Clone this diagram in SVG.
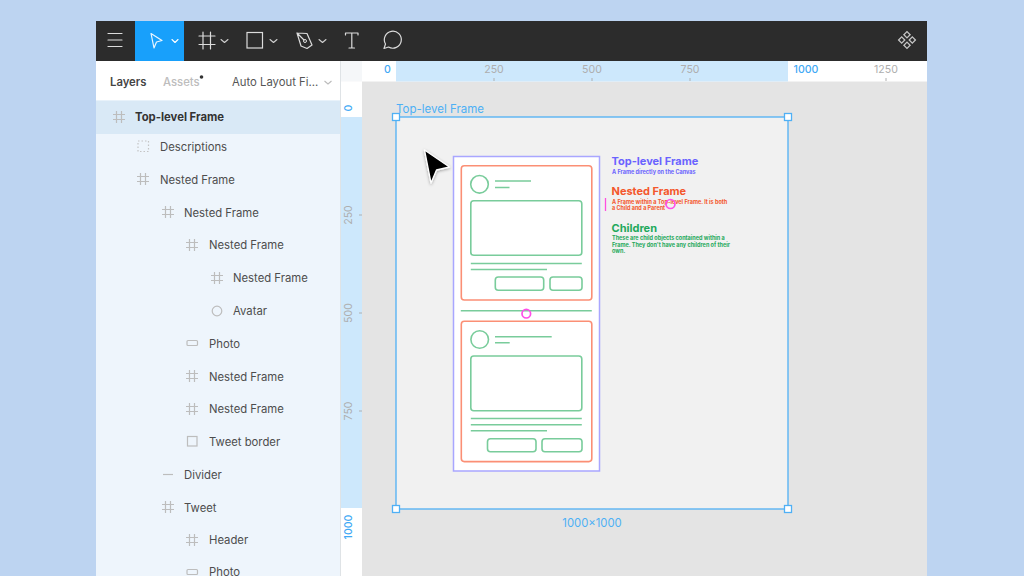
<svg xmlns="http://www.w3.org/2000/svg" width="1024" height="576" viewBox="0 0 1024 576">
<style>
text{font-family:Inter,"Noto Sans","Liberation Sans",sans-serif}
.row{font-size:11.3px;fill:#4d4d4d}
.ic{fill:none;stroke:#bdbdbd;stroke-width:1.2}
.tb{fill:none;stroke:#dcdcdc;stroke-width:1.2;stroke-linejoin:round;stroke-linecap:round}
.chev{fill:none;stroke:#cfcfcf;stroke-width:1.1;stroke-linecap:round;stroke-linejoin:round}
.rul{font-size:10.6px;fill:#aeaeae;text-anchor:middle}
.rulb{font-size:10.6px;fill:#3fa9f5;text-anchor:middle;font-weight:500}
.tick{stroke:#b0b0b0;stroke-width:1}
.h{fill:#fff;stroke:#4fb0f5;stroke-width:1.3}
.g{fill:none;stroke:#79cc9b;stroke-width:1.6}
.o{fill:none;stroke:#fb8f75;stroke-width:1.6}
.pk{fill:none;stroke:#ff4fe8;stroke-width:1.7}
.tt{font-size:11px;font-weight:700}
.st{font-size:5.5px;font-weight:700}
</style>
<defs>
<g id="hash" class="ic"><path d="M-2.5-6V6M2.5-6V6M-6-2.5H6M-6 2.5H6"/></g>
<filter id="sh" x="-40%" y="-40%" width="180%" height="180%"><feDropShadow dx="0" dy="1" stdDeviation="1.8" flood-color="#000" flood-opacity=".35"/></filter>
</defs>
<rect width="1024" height="576" fill="#bdd4f1"/>
<g id="window">
<rect x="96" y="21" width="831" height="555" fill="#e4e4e4"/>
</g>
<g id="toolbar">
<rect x="96" y="21" width="831" height="40" fill="#2c2c2c"/>
<rect x="135" y="21" width="49" height="40" fill="#18a0fb"/>
<path class="tb" d="M108 33.500H122M108 40H122M108 46.500H122"/>
<path class="tb" d="M151 33.500L162 40.500L156.500 42L154 48Z" style="stroke:#eaf6ff"/>
<path class="chev" d="M172 39.500L175 42.500L178 39.500" style="stroke:#fff"/>
<path class="tb" d="M203 32V49M210.500 32V49M199 36H215M199 44.500H215"/>
<path class="chev" d="M221 39.500L224.500 42.500L228 39.500"/>
<rect class="tb" x="247" y="32.500" width="15.500" height="15.500" style="stroke-linejoin:miter"/>
<path class="chev" d="M270 39.500L273.500 42.500L277 39.500"/>
<path class="tb" d="M297 33L307 33.500L312 45L307 48.500L301 46ZM297 33L304 40"/>
<circle cx="305" cy="41" r="1.500" fill="none" stroke="#dcdcdc"/>
<path class="chev" d="M319 39.500L322.500 42.500L326 39.500"/>
<path class="tb" d="M345.500 35V33H358V35M351.800 33V48M349 48H354.500"/>
<path class="tb" d="M384 48.500L385.500 44A8.500 8.500 0 1 1 388.500 47Z"/>
<g fill="none" stroke="#c4c4c4" stroke-width="1.300"><rect x="-2.200" y="-2.200" width="4.400" height="4.400" transform="translate(907 34.700) rotate(45)"/><rect x="-2.200" y="-2.200" width="4.400" height="4.400" transform="translate(907 45.300) rotate(45)"/><rect x="-2.200" y="-2.200" width="4.400" height="4.400" transform="translate(901.700 40) rotate(45)"/><rect x="-2.200" y="-2.200" width="4.400" height="4.400" transform="translate(912.300 40) rotate(45)"/></g>
</g>
<g id="rulers">
<rect x="340" y="61" width="587" height="20.500" fill="#fff"/>
<rect x="340" y="61" width="22" height="20.500" fill="#f5f7f9"/>
<rect x="396" y="61" width="392" height="20.500" fill="#cde8fc"/>
<rect x="340" y="81.500" width="22" height="494.500" fill="#fff"/>
<rect x="340" y="117" width="22" height="391" fill="#cde8fc"/>
<text class="rulb" x="387.500" y="73">0</text>
<text class="rul" x="494" y="73">250</text>
<text class="rul" x="592" y="73">500</text>
<text class="rul" x="690" y="73">750</text>
<text class="rulb" x="806" y="73">1000</text>
<text class="rul" x="886" y="73">1250</text>
<path class="tick" d="M494 78V81M592 78V81M690 78V81M886 78V81M359 215H362M359 313H362M359 411H362"/>
<text class="rulb" transform="translate(352 108) rotate(-90)">0</text>
<text class="rul" transform="translate(352 215) rotate(-90)">250</text>
<text class="rul" transform="translate(352 313) rotate(-90)">500</text>
<text class="rul" transform="translate(352 411) rotate(-90)">750</text>
<text class="rulb" transform="translate(352 527) rotate(-90)">1000</text>
</g>
<g id="layers-panel">
<rect x="96" y="61" width="244.500" height="515" fill="#eef5fc"/>
<rect x="96" y="61" width="244.500" height="39.500" fill="#fff"/>
<rect x="96" y="100.500" width="244.500" height="33.500" fill="#d9e9f6"/>
<path d="M340.500 61V576" stroke="#dfe3e6" stroke-width="1"/>
<text x="110" y="85.500" style="font-size:11.300px;font-weight:600;fill:#444">Layers</text>
<text x="163" y="85.500" style="font-size:11.300px;font-weight:500;fill:#bdbdbd">Assets</text>
<circle cx="201.500" cy="77" r="1.800" fill="#333"/>
<text x="232" y="85.500" style="font-size:11.300px;fill:#555">Auto Layout Fi...</text>
<path d="M324.500 81L328 84L331.500 81" fill="none" stroke="#bbb" stroke-width="1.100"/>
<use href="#hash" x="119" y="117" style="stroke:#555"/>
<text x="135" y="121.300" style="font-size:11.300px;font-weight:700;fill:#333">Top-level Frame</text>
<rect x="138" y="141" width="10.500" height="10.500" fill="none" stroke="#c4c4c4" stroke-width="1.200" stroke-dasharray="1.500 2"/>
<text class="row" x="160" y="151">Descriptions</text>
<use href="#hash" x="143" y="179"/><text class="row" x="160" y="184">Nested Frame</text>
<use href="#hash" x="168" y="212"/><text class="row" x="184" y="216.500">Nested Frame</text>
<use href="#hash" x="192" y="245"/><text class="row" x="209" y="249.300">Nested Frame</text>
<use href="#hash" x="217" y="278"/><text class="row" x="233" y="282">Nested Frame</text>
<circle class="ic" cx="217" cy="311" r="4.800"/><text class="row" x="233" y="315">Avatar</text>
<rect class="ic" x="187" y="340.500" width="10.500" height="5" rx="1"/><text class="row" x="209" y="347.500">Photo</text>
<use href="#hash" x="192" y="376"/><text class="row" x="209" y="380.500">Nested Frame</text>
<use href="#hash" x="192" y="409"/><text class="row" x="209" y="413.300">Nested Frame</text>
<rect class="ic" x="187.500" y="436.500" width="9.500" height="9.500"/><text class="row" x="209" y="445.500">Tweet border</text>
<path class="ic" d="M163 474.500H173"/><text class="row" x="184" y="478.500">Divider</text>
<use href="#hash" x="168" y="507"/><text class="row" x="184" y="511.500">Tweet</text>
<use href="#hash" x="192" y="540"/><text class="row" x="209" y="544">Header</text>
<rect class="ic" x="187" y="569.500" width="10.500" height="5" rx="1"/><text class="row" x="209" y="575.500">Photo</text>
</g>
<g id="top-level-frame">
<rect x="396" y="117" width="392" height="392" fill="#f1f1f1"/>
<rect x="396" y="117" width="392" height="392" fill="none" stroke="#4fb0f5" stroke-width="1.300"/>
<text x="396" y="113" style="font-size:11.500px;fill:#4db0f5">Top-level Frame</text>
<text x="592" y="526.500" text-anchor="middle" style="font-size:11.300px;fill:#4db0f5">1000×1000</text>
<rect class="h" x="392.500" y="113.500" width="7" height="7"/>
<rect class="h" x="784.500" y="113.500" width="7" height="7"/>
<rect class="h" x="392.500" y="505.500" width="7" height="7"/>
<rect class="h" x="784.500" y="505.500" width="7" height="7"/>
</g>
<g id="mockup">
<rect x="453.500" y="156.500" width="146" height="314.500" fill="#fff" stroke="#a9a6ff" stroke-width="1.500"/>
<g id="tweet-1">
<rect class="o" x="461.300" y="165.800" width="130.500" height="134.200" rx="3"/>
<circle class="g" cx="479.500" cy="184.300" r="8.800"/>
<path class="g" d="M495 181H531M495 187.500H509.500"/>
<rect class="g" x="470.800" y="200.800" width="111" height="54.500" rx="3"/>
<path class="g" d="M470.800 263.500H581.800M470.800 269.500H547"/>
<rect class="g" x="495.300" y="277" width="48.400" height="13.300" rx="3"/>
<rect class="g" x="550" y="277" width="32" height="13.300" rx="3"/>
</g>
<path id="divider" class="g" d="M460.800 310.700H591.800"/>
<g id="tweet-2">
<rect class="o" x="461.300" y="321.300" width="130.500" height="140.300" rx="3"/>
<circle class="g" cx="479.700" cy="339.500" r="8.800"/>
<path class="g" d="M495 336.700H551.700M495 342.700H509.700"/>
<rect class="g" x="470.800" y="356" width="111" height="54.700" rx="3"/>
<path class="g" d="M470.800 418.500H581.800M470.800 424.700H581.800M470.800 430.800H547"/>
<rect class="g" x="487.500" y="438.800" width="48.500" height="13" rx="3"/>
<rect class="g" x="542" y="438.800" width="40" height="13" rx="3"/>
</g>
</g>
<g id="descriptions">
<text class="tt" x="611.500" y="165" fill="#6a63ff">Top-level Frame</text>
<text class="st" x="612" y="174" fill="#6a63ff">A Frame directly on the Canvas</text>
<text class="tt" x="611.500" y="195.300" fill="#f4572c">Nested Frame</text>
<text class="st" x="612" y="203.800" fill="#f4572c">A Frame within a Top-level Frame. It is both</text>
<text class="st" x="612" y="210.300" fill="#f4572c">a Child and a Parent</text>
<text class="tt" x="611.500" y="231.500" fill="#1fa95c">Children</text>
<text class="st" x="612" y="240.300" fill="#1fa95c">These are child objects  contained within a</text>
<text class="st" x="612" y="246.800" fill="#1fa95c">Frame. They don't have any children of their</text>
<text class="st" x="612" y="253.300" fill="#1fa95c">own.</text>
</g>
<g id="pink-marks">
<path d="M605.500 198V211" stroke="#ff4fe0" stroke-width="1.300"/>
<circle class="pk" cx="670.500" cy="204" r="4.500"/>
<circle class="pk" cx="526.300" cy="313.700" r="4.300"/>
</g>
<path id="cursor" d="M424.500 150L449.500 167L436.500 170L431 183Z" fill="#000" stroke="#fff" stroke-width="1.300" stroke-linejoin="round" filter="url(#sh)"/>
</svg>
